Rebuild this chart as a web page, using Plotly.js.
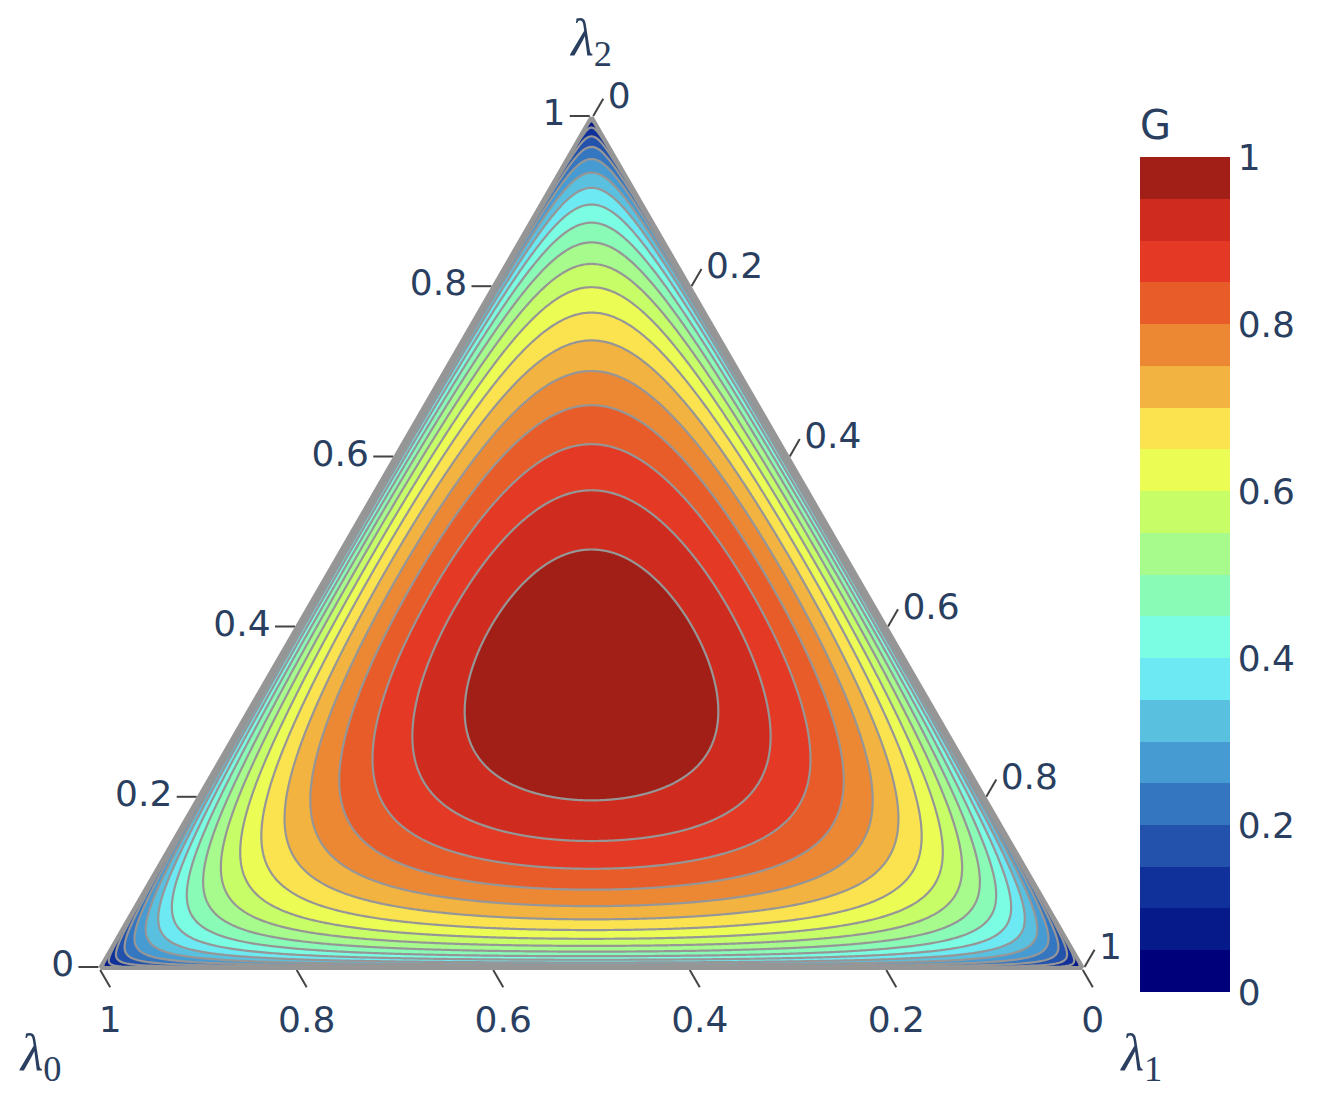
<!DOCTYPE html>
<html>
<head>
<meta charset="utf-8">
<script src="https://cdn.plot.ly/plotly-3.0.1.min.js"></script>
<style>html,body{margin:0;padding:0;background:#fff;}</style>
</head>
<body>
<div id="chart" style="width:1326px;height:1104px;"></div>
<script>
// ---- data ----
// contour levels of G (G = 3 * geometric mean of lambda0, lambda1, lambda2)
const contourLevels = [0.05, 0.10, 0.15, 0.20, 0.25, 0.30, 0.35, 0.40, 0.45, 0.50,
                       0.55, 0.60, 0.65, 0.70, 0.75, 0.80, 0.85, 0.90, 0.95];
// colour of each band [0,0.05), [0.05,0.1) ... [0.95,1]
const bandColors = ['#00007a', '#061a89', '#11319a', '#2352ac', '#3576c0', '#469bd3',
                    '#5ac0e0', '#6ce9f3', '#7afde2', '#89fbb6', '#a7fb8c', '#c7fd66',
                    '#ebfd55', '#fbe350', '#f2b340', '#ec8734', '#e75c28', '#e43a25',
                    '#cf2c1f', '#a21f17'];
const colorbarTickVals = [0, 0.2, 0.4, 0.6, 0.8, 1];
const colorbarTickText = ['0', '0.2', '0.4', '0.6', '0.8', '1'];
const axisTitleA = '<i>λ</i><sub>2</sub>';
const axisTitleB = '<i>λ</i><sub>0</sub>';
const axisTitleC = '<i>λ</i><sub>1</sub>';
const colorbarTitle = 'G';

// ---- the field ----
function G(l0, l1, l2) {
  if (l0 <= 0 || l1 <= 0 || l2 <= 0) return 0;
  return 3 * Math.cbrt(l0 * l1 * l2);
}
const SQ3 = Math.sqrt(3);
function toTern(x, y) {           // cartesian (unit triangle) -> (a=λ2, b=λ0, c=λ1)
  const a = y / (SQ3 / 2);
  const c = x - a / 2;
  const b = 1 - a - c;
  return [a, b, c];
}
const cx = 0.5, cy = SQ3 / 6;
function contourPath(level, n) {
  const A = [], B = [], C = [];
  for (let i = 0; i <= n; i++) {
    const th = 2 * Math.PI * i / n;
    const dx = Math.cos(th), dy = Math.sin(th);
    let lo = 0, hi = 0.6;
    for (let k = 0; k < 60; k++) {
      const m = (lo + hi) / 2;
      const t = toTern(cx + m * dx, cy + m * dy);
      if (G(t[1], t[2], t[0]) >= level) lo = m; else hi = m;
    }
    const t = toTern(cx + lo * dx, cy + lo * dy);
    A.push(t[0]); B.push(t[1]); C.push(t[2]);
  }
  return {A, B, C};
}

const lineColor = 'rgb(150,150,150)';
const textColor = '#2a3f5f';
const tickFont = 'DejaVu Sans, Verdana, sans-serif';
const traces = [];
// base triangle (lowest band)
traces.push({
  type: 'scatterternary', mode: 'lines', fill: 'toself',
  a: [1, 0, 0, 1], b: [0, 1, 0, 0], c: [0, 0, 1, 0],
  fillcolor: bandColors[0], line: {color: lineColor, width: 2},
  hoverinfo: 'skip', showlegend: false
});
contourLevels.forEach((lev, i) => {
  const p = contourPath(lev, 1440);
  traces.push({
    type: 'scatterternary', mode: 'lines', fill: 'toself',
    a: p.A, b: p.B, c: p.C,
    fillcolor: bandColors[i + 1], line: {color: lineColor, width: 2.2},
    hoverinfo: 'skip', showlegend: false
  });
});

// colorbar trace
const cscale = [];
bandColors.forEach((col, i) => {
  cscale.push([i / bandColors.length, col]);
  cscale.push([(i + 1) / bandColors.length, col]);
});
traces.push({
  type: 'scatterternary', mode: 'markers',
  a: [1 / 3], b: [1 / 3], c: [1 / 3],
  marker: {
    size: 1, opacity: 0, color: [0.5], cmin: 0, cmax: 1, colorscale: cscale,
    showscale: true,
    colorbar: {
      thickness: 90, thicknessmode: 'pixels',
      len: 886, lenmode: 'pixels',
      x: 1140 / 1326, xanchor: 'left', xpad: 0,
      y: (1104 - 992) / 1104, yanchor: 'bottom', ypad: 0,
      outlinewidth: 0, ticks: '',
      tickvals: colorbarTickVals, ticktext: colorbarTickText,
      tickfont: {family: tickFont, size: 36, color: textColor},
      title: {text: colorbarTitle, side: 'top', font: {family: tickFont, size: 40, color: textColor}}
    }
  },
  hoverinfo: 'skip', showlegend: false
});

function axis(title) {
  return {
    title: {text: title, font: {family: 'Liberation Serif, DejaVu Serif, serif', size: 52, color: textColor}},
    min: 0, tick0: 0, dtick: 0.2,
    ticks: 'outside', ticklen: 20, tickwidth: 2, tickcolor: '#444',
    tickfont: {family: tickFont, size: 36, color: textColor},
    linecolor: lineColor, linewidth: 4,
    showgrid: false
  };
}

const layout = {
  width: 1326, height: 1104,
  margin: {l: 0, r: 0, t: 0, b: 0},
  paper_bgcolor: '#fff', plot_bgcolor: '#fff',
  font: {family: tickFont, size: 36, color: textColor},
  showlegend: false,
  ternary: {
    sum: 1,
    bgcolor: '#fff',
    domain: {x: [100 / 1326, 1083 / 1326], y: [1 - 968 / 1104, 1 - 117 / 1104]},
    aaxis: axis(axisTitleA),
    baxis: axis(axisTitleB),
    caxis: axis(axisTitleC)
  }
};

Plotly.newPlot('chart', traces, layout, {displayModeBar: false, staticPlot: true});
</script>
</body>
</html>
